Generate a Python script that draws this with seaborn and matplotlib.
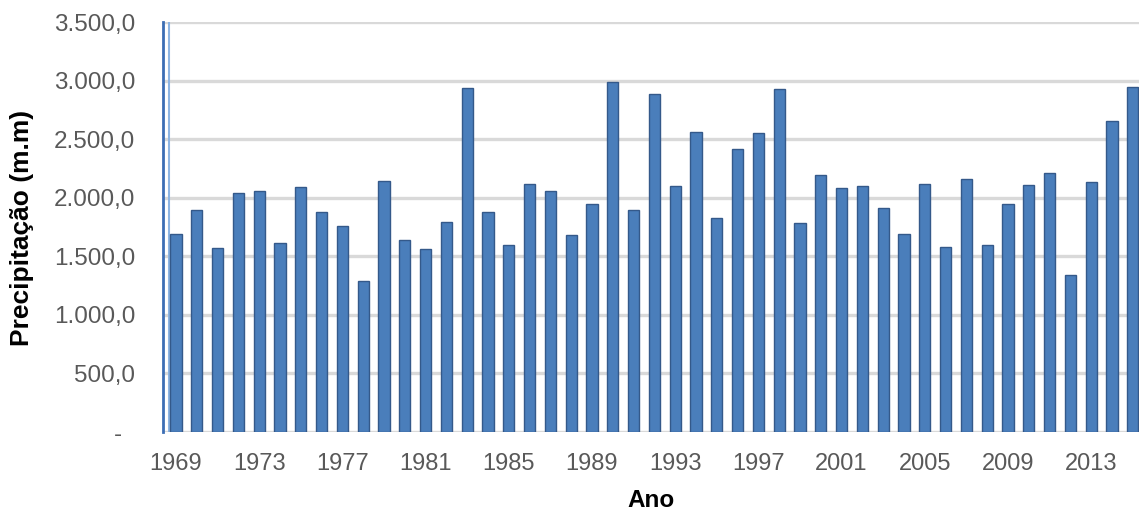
import matplotlib
matplotlib.use("Agg")
import matplotlib.pyplot as plt
import seaborn as sns
import pandas as pd

years = list(range(1969, 2016))
precip = [1690, 1895, 1570, 2040, 2060, 1615, 2095, 1880, 1760, 1285,
          2145, 1640, 1560, 1790, 2935, 1875, 1595, 2120, 2060, 1685,
          1945, 2990, 1895, 2885, 2100, 2560, 1825, 2420, 2555, 2930,
          1780, 2195, 2080, 2100, 1915, 1690, 2115, 1580, 2160, 1595,
          1945, 2110, 2215, 1340, 2135, 2655, 2945]
tick_years = [1969, 1973, 1977, 1981, 1985, 1989, 1993, 1997, 2001, 2005, 2009, 2013]
y_ticks = [0, 500, 1000, 1500, 2000, 2500, 3000, 3500]


def fmt(v):
    if v == 0:
        return "-  "
    s = f"{v:,.1f}"
    return s.replace(",", "X").replace(".", ",").replace("X", ".")


sns.set_style("white")
plt.rcParams['font.family'] = ['Liberation Sans', 'DejaVu Sans']

df = pd.DataFrame({"Ano": [str(y) for y in years], "Precip": precip})

fig = plt.figure(figsize=(11.39, 5.11), dpi=100)
ax = fig.add_axes([163 / 1139, 79 / 511, 976 / 1139, 410 / 511])

ax.set_axisbelow(True)
for v in y_ticks:
    ax.axhline(v, color="#D9D9D9", lw=2.4, zorder=0)

sns.barplot(data=df, x="Ano", y="Precip", color="#4A7EBB", width=0.54,
            edgecolor="#34598A", linewidth=1.0, saturation=1, ax=ax, zorder=2)

ax.set_xlim(-0.625, 46.3)
ax.set_ylim(0, 3500)

cats = [str(y) for y in years]
ax.set_xticks([cats.index(str(t)) for t in tick_years])
ax.set_xticklabels([str(t) for t in tick_years], fontsize=17, color="#595959")
ax.set_yticks(y_ticks)
ax.set_yticklabels([fmt(v) for v in y_ticks], fontsize=17.5, color="#595959")
ax.tick_params(axis="x", length=0, pad=15)
ax.tick_params(axis="y", length=0, pad=20)

for side in ["top", "right", "bottom"]:
    ax.spines[side].set_visible(False)
ax.spines["left"].set_color("#3C6EB4")
ax.spines["left"].set_linewidth(2.0)
ax.axvline(-0.36, color="#8DB4E2", lw=1.5, zorder=1)

ax.set_xlabel("Ano", fontsize=17.5, fontweight="bold", color="black", labelpad=10)
ax.set_ylabel("")
fig.text(22 / 1139, 1 - 228 / 511, "Precipitação (m.m)", rotation=90,
         ha="center", va="center", fontsize=19, fontweight="bold", color="black")

fig.savefig("out.png", dpi=100)
